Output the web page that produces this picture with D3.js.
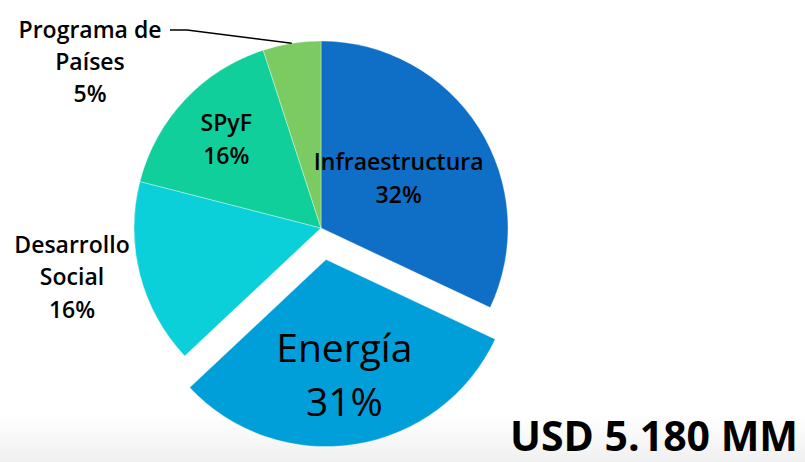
<!DOCTYPE html>
<html>
<head>
<meta charset="utf-8">
<script src="https://cdn.jsdelivr.net/npm/d3@7"></script>
<style>
  body { margin: 0; background: #fff; }
  svg { display: block; font-family: "Open Sans", sans-serif; }
</style>
</head>
<body>
<div id="chart"></div>
<script>
// slice data, clockwise from 12 o'clock
const categories = ["Infraestructura", "Energía", "Desarrollo Social", "SPyF", "Programa de Países"];
const shares = [32, 31, 16, 16, 5];
const labelLines = [
    ["Infraestructura", "32%"],
    ["Energía", "31%"],
    ["Desarrollo", "Social", "16%"],
    ["SPyF", "16%"],
    ["Programa de", "Países", "5%"]
];
const colors = ["#0F6FC6", "#009FD9", "#0BD0D9", "#10CF9B", "#7CCA62"];
const totalLabel = "USD 5.180 MM";

const width = 805, height = 462;
const cx = 321, cy = 228, radius = 187;
const explodeName = "Energía";
const explodeDist = 32;

const svg = d3.select("#chart")
    .append("svg")
    .attr("width", width)
    .attr("height", height);

// faint grey band at the bottom
const grad = svg.append("defs").append("linearGradient")
    .attr("id", "fade").attr("x1", 0).attr("y1", 0).attr("x2", 0).attr("y2", 1);
grad.append("stop").attr("offset", "0%").attr("stop-color", "#ffffff");
grad.append("stop").attr("offset", "100%").attr("stop-color", "#f0f0f0");
svg.append("rect")
    .attr("x", 0).attr("y", 415)
    .attr("width", width).attr("height", height - 415)
    .attr("fill", "url(#fade)");

const data = categories.map((c, i) => ({ name: c, value: shares[i], lines: labelLines[i], color: colors[i] }));

const pie = d3.pie().sort(null).value(d => d.value);
const arcs = pie(data);

const arc = d3.arc().innerRadius(0).outerRadius(radius);

const g = svg.append("g").attr("transform", `translate(${cx},${cy})`);

// offset for the pulled-out slice
function shift(d) {
    if (d.data.name !== explodeName) return [0, 0];
    const a = (d.startAngle + d.endAngle) / 2;
    return [Math.sin(a) * explodeDist, -Math.cos(a) * explodeDist];
}

g.selectAll("path.slice")
    .data(arcs)
    .enter()
    .append("path")
    .attr("class", "slice")
    .attr("transform", d => `translate(${shift(d)})`)
    .attr("d", arc)
    .attr("fill", d => d.data.color)
    .attr("stroke", "#ffffff")
    .attr("stroke-opacity", 0.5)
    .attr("stroke-width", 0.7);

// label placement: inside labels use a centroid at a given radius
const inside = {
    "Infraestructura": { r: 92, size: 23, weight: 600, gap: 33 },
    "Energía": { r: 117, size: 39, weight: 400, gap: 54 },
    "SPyF": { r: 130, size: 23, weight: 600, gap: 33 }
};
const outside = {
    "Desarrollo Social": { x: 72 - cx, y: 277 - cy, size: 23, weight: 600, gap: 32.5 },
    "Programa de Países": { x: 90 - cx, y: 62 - cy, size: 23, weight: 600, gap: 32 }
};

arcs.forEach(d => {
    const name = d.data.name;
    let x, y, cfg;
    if (inside[name]) {
        cfg = inside[name];
        const la = d3.arc().innerRadius(cfg.r).outerRadius(cfg.r);
        const c = la.centroid(d);
        const s = shift(d);
        x = c[0] + s[0];
        y = c[1] + s[1];
    } else {
        cfg = outside[name];
        x = cfg.x;
        y = cfg.y;
    }
    const n = d.data.lines.length;
    const t = g.append("text")
        .attr("text-anchor", "middle")
        .attr("font-size", cfg.size)
        .attr("font-weight", cfg.weight)
        .attr("fill", "#000");
    d.data.lines.forEach((ln, i) => {
        t.append("tspan")
            .attr("x", x)
            .attr("y", y + (i - (n - 1) / 2) * cfg.gap)
            .attr("dy", "0.36em")
            .text(ln);
    });
});

// leader line for the small slice
const small = arcs.find(d => d.data.name === "Programa de Países");
const ma = (small.startAngle + small.endAngle) / 2;
const edge = [Math.sin(ma) * radius, -Math.cos(ma) * radius];
g.append("polyline")
    .attr("points", [[170 - cx, 30 - cy], [187 - cx, 30 - cy], edge].map(p => p.join(",")).join(" "))
    .attr("fill", "none")
    .attr("stroke", "#000")
    .attr("stroke-width", 1.5);

// total
svg.append("text")
    .attr("x", 798)
    .attr("y", 451)
    .attr("text-anchor", "end")
    .attr("font-size", 41)
    .attr("font-weight", 700)
    .attr("fill", "#000")
    .text(totalLabel);
</script>
</body>
</html>
